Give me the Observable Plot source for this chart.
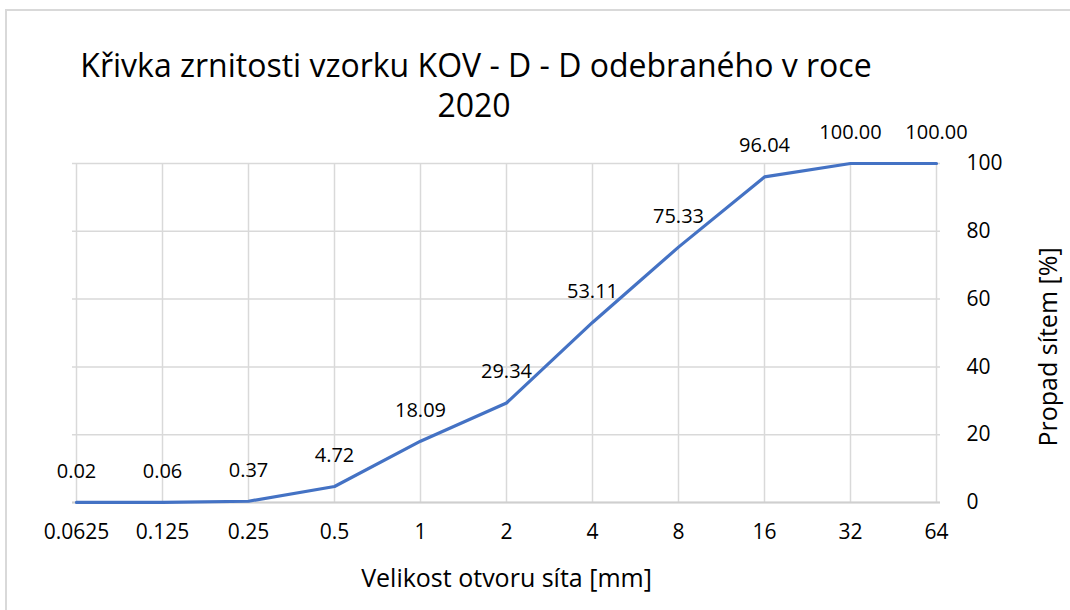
<!DOCTYPE html>
<html>
<head>
<meta charset="utf-8">
<script src="https://cdn.jsdelivr.net/npm/d3@7"></script>
<script src="https://cdn.jsdelivr.net/npm/@observablehq/plot@0.6"></script>
<style>
  html, body { margin: 0; padding: 0; background: #fff; overflow: hidden; }
  #wrap { position: relative; width: 1070px; height: 610px; overflow: hidden; font-family: "Open Sans", sans-serif; }
  #bl { position: absolute; left: 5px; top: 9px; width: 2px; height: 601px; background: #d9d9d9; }
  #bt { position: absolute; left: 5px; top: 9px; width: 1065px; height: 2px; background: #d9d9d9; }
  #chart { position: absolute; left: 0; top: 0; }
  .title { position: absolute; color: #000; font-size: 32px; white-space: nowrap; transform: translate(-50%, -50%); line-height: 1; }
</style>
</head>
<body>
<div id="wrap">
  <div id="bl"></div>
  <div id="bt"></div>
  <div id="chart"></div>
  <div class="title" style="left:476px; top:65px;">Křivka zrnitosti vzorku KOV - D - D odebraného v roce</div>
  <div class="title" style="left:474px; top:105px;">2020</div>
</div>
<script>
const sieveSizes = ["0.0625", "0.125", "0.25", "0.5", "1", "2", "4", "8", "16", "32", "64"];
const passing = [0.02, 0.06, 0.37, 4.72, 18.09, 29.34, 53.11, 75.33, 96.04, 100.00, 100.00];
const yTicks = [0, 20, 40, 60, 80, 100];
const xTitle = "Velikost otvoru síta [mm]";
const yTitle = "Propad sítem [%]";

const data = sieveSizes.map((s, i) => ({size: s, value: passing[i]}));

const chart = Plot.plot({
  width: 1070,
  height: 610,
  marginLeft: 72,
  marginRight: 130,
  marginTop: 163,
  marginBottom: 108,
  style: {fontFamily: "Open Sans, sans-serif", background: "transparent", color: "#000"},
  x: {type: "point", domain: sieveSizes, padding: 0},
  y: {domain: [0, 100]},
  marks: [
    Plot.gridX(sieveSizes, {stroke: "#d9d9d9", strokeOpacity: 1, strokeWidth: 1.5}),
    Plot.gridY(yTicks, {stroke: "#d9d9d9", strokeOpacity: 1, strokeWidth: 1.5}),
    Plot.ruleY([0], {stroke: "#cfcfcf", strokeWidth: 2}),
    Plot.axisX({ticks: sieveSizes, tickSize: 0, tickPadding: 22, fontSize: 21, label: null}),
    Plot.axisY({ticks: yTicks, anchor: "right", tickSize: 0, tickPadding: 26, fontSize: 21, textAnchor: "start", label: null}),
    Plot.line(data, {x: "size", y: "value", stroke: "#4472C4", strokeWidth: 3.2}),
    Plot.text(data, {x: "size", y: "value", text: d => d.value.toFixed(2), dy: -31, fontSize: 20, fill: "#000"}),
    Plot.text([xTitle], {frameAnchor: "bottom", dy: 76, lineAnchor: "middle", fontSize: 25, fill: "#000"}),
    Plot.text([yTitle], {frameAnchor: "right", dx: 108, dy: 14, rotate: -90, textAnchor: "middle", lineAnchor: "middle", fontSize: 25, fill: "#000"})
  ]
});
document.getElementById("chart").appendChild(chart);
</script>
</body>
</html>
